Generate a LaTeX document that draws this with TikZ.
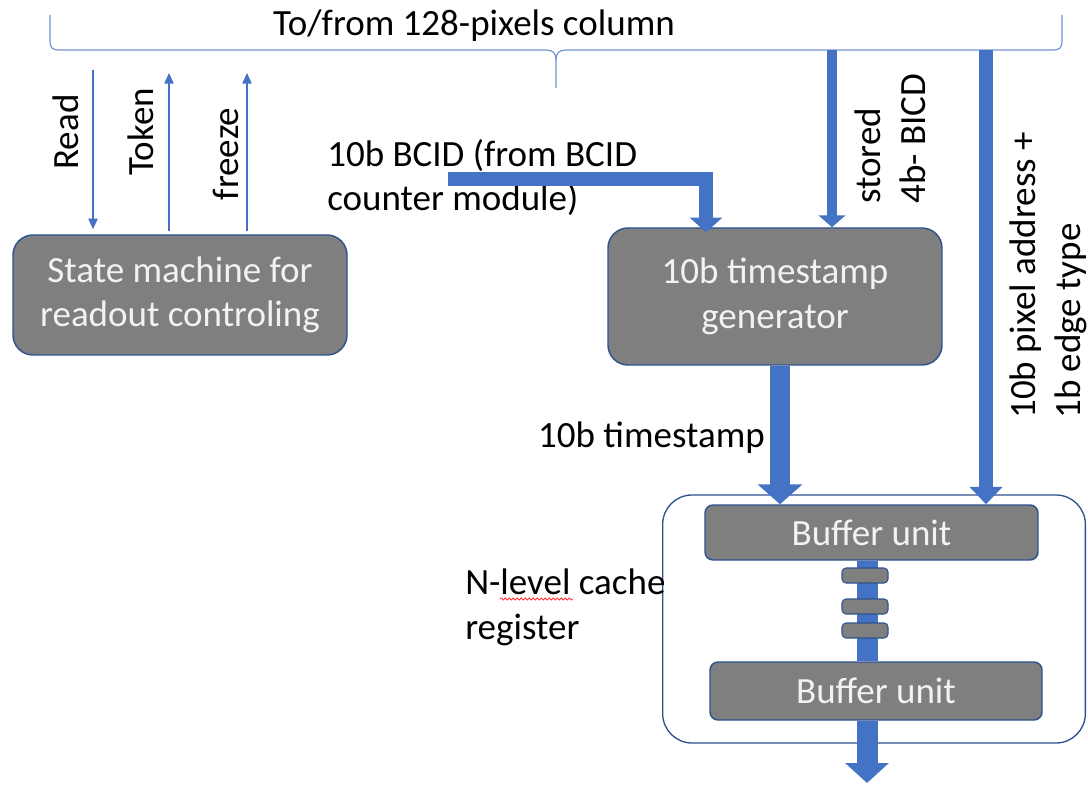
\documentclass[tikz,border=0pt]{standalone}
\usepackage{fontspec}
\setmainfont{Carlito}
\usepackage{xcolor}
\usepackage{tikz}
\usetikzlibrary{arrows.meta,positioning,calc,decorations.pathmorphing}
\definecolor{busblue}{HTML}{4472C4}
\definecolor{boxgray}{HTML}{7F7F7F}
\definecolor{edgeblue}{HTML}{2F528F}
\newcommand{\lblfont}{\fontsize{27.75}{33.5}\selectfont}

\begin{document}
\begin{tikzpicture}[
    x=0.75pt, y=-0.75pt,
    font=\lblfont,
    unit/.style={draw=edgeblue, line width=1.1pt, fill=boxgray, text=white!95!black, rounded corners=15pt, align=center, inner sep=0pt},
    bufunit/.style={unit, rounded corners=6pt},
    reg/.style={draw=edgeblue, line width=0.8pt, fill=boxgray, rounded corners=3pt, minimum width=34.5pt, minimum height=11.25pt, inner sep=0pt},
    cachebox/.style={draw=edgeblue, line width=1pt, fill=white, rounded corners=22pt, minimum width=317pt, minimum height=186pt},
    bus/.style={draw=busblue, line width=11pt, line join=miter},
    sig/.style={draw=busblue, line width=1.1pt, -{Triangle[width=7pt,length=8pt]}}
]
\useasboundingbox (0,0) rectangle (1088,787);
\draw[busblue!75, line width=0.9pt] (50,15) -- (50,40) .. controls (50,48) and (52,50) .. (60,50) -- (546,50) .. controls (553,50) and (556,53) .. (556,60) -- (556,88);
\draw[busblue!75, line width=0.9pt] (556,60) .. controls (556,53) and (559,50) .. (566,50) -- (1052,50) .. controls (1060,50) and (1062,48) .. (1062,40) -- (1062,15);
\node[anchor=base] (title) at (474,36) {To/from 128-pixels column};
\node[unit, minimum width=250.5pt, minimum height=90pt] (fsm) at (180,295) {State machine for\\readout controling};
\node[unit, minimum width=250.5pt, minimum height=102.75pt] (tsgen) at (775,296.5) {10b timestamp\\generator};
\node[cachebox] (cache) at (874,619) {};
\node[bufunit, minimum width=249.75pt, minimum height=41.25pt] (buf1) at (871.5,532.5) {Buffer unit};
\node[bufunit, minimum width=249pt, minimum height=43.5pt] (buf2) at (876,691) {Buffer unit};
\coordinate (readtop) at (93,70);
\coordinate (toktop) at (169,73);
\coordinate (frztop) at (247,73);
\draw[sig] (readtop) -- ($(fsm.north -| readtop)+(0,-5)$);
\draw[sig] ($(fsm.north -| toktop)+(0,-3)$) -- (toktop);
\draw[sig] ($(fsm.north -| frztop)+(0,-3)$) -- (frztop);
\node[rotate=90] (readlbl) at (66,132) {Read};
\node[rotate=90] (toklbl) at (141,132) {Token};
\node[rotate=90] (frzlbl) at (226,154) {freeze};
\node[anchor=north west, align=left, inner sep=0pt] (bcidlbl) at (327,139) {10b BCID (from BCID\\counter module)};
\coordinate (bcidin) at (448,179);
\coordinate (bcidturn) at (706,179);
\draw[bus, -{Triangle[width=24pt,length=11pt]}] (bcidin) -- (bcidturn) -- ($(tsgen.north -| bcidturn)+(0,5)$);
\coordinate (storedtop) at (832,50);
\draw[bus, line width=8pt, -{Triangle[width=20pt,length=9pt]}] (storedtop) -- (tsgen.north -| storedtop);
\node[rotate=90, anchor=west, align=left, inner sep=0pt] (storedlbl) at (890,204) {stored\\4b- BICD};
\coordinate (pixtop) at (986,50);
\draw[bus, line width=10.5pt, -{Triangle[width=24pt,length=13pt]}] (pixtop) -- (buf1.north -| pixtop);
\node[rotate=90, anchor=west, align=left, inner sep=0pt] (pixlbl) at (1048,419) {10b pixel address +\\1b edge type};
\coordinate (tsx) at (780,0);
\draw[bus, line width=15pt, -{Triangle[width=33pt,length=15pt]}] (tsgen.south -| tsx) -- (buf1.north -| tsx);
\node[anchor=base east, inner sep=0pt] (tslbl) at (765,447) {10b timestamp};
\coordinate (chainx) at (867,0);
\coordinate (outtip) at (867,783);
\draw[bus, line width=15.75pt] (buf1.south -| chainx) -- (buf2.north -| chainx);
\draw[bus, line width=15.75pt, -{Triangle[width=32pt,length=15pt]}] (buf2.south -| chainx) -- (outtip);
\foreach \y [count=\i] in {575.5,606.5,630.5}
    \node[reg] (reg\i) at (865,\y) {};
\node[anchor=north west, align=left, inner sep=0pt] (cachelbl) at (465,569) {N-level cache\\register};
\draw[red!80, line width=0.6pt, decorate, decoration={snake, amplitude=0.8pt, segment length=3pt}] (500,599) -- (573,599);
\end{tikzpicture}
\end{document}
